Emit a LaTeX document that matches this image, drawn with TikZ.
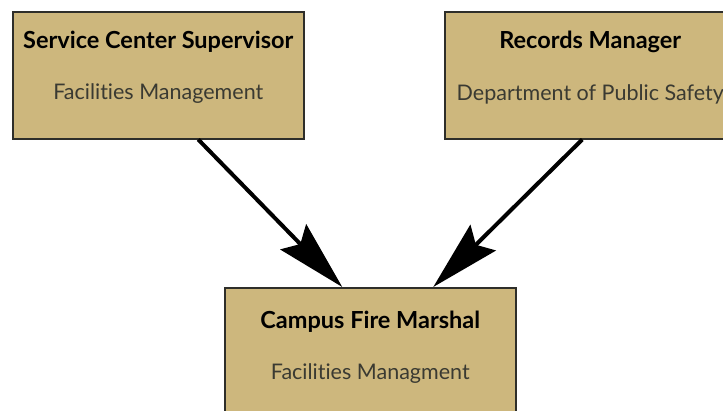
\documentclass[tikz,border=0pt]{standalone}
\usepackage{fontspec}
\setmainfont[Ligatures={NoCommon}]{Lato}
\usetikzlibrary{arrows.meta,calc}
\definecolor{boxfill}{HTML}{CDB77D}
\definecolor{boxline}{HTML}{2E2E2A}
\definecolor{subtext}{HTML}{3A3A32}
\begin{document}
\begin{tikzpicture}[x=1pt,y=-1pt,
  orgbox/.style={draw=boxline,line width=1.5pt,fill=boxfill,minimum width=291pt,minimum height=127pt,inner sep=0pt,anchor=north west},
  titletext/.style={font=\bfseries\fontsize{23.5}{26}\selectfont,text=black,inner sep=0pt},
  subtitletext/.style={font=\fontsize{21.5}{24}\selectfont,text=subtext,inner sep=0pt},
  link/.style={line width=4pt,-{Stealth[length=70pt,width=36pt,inset=10pt]}}]
\useasboundingbox (0,0) rectangle (723,410);
\clip (0,0) rectangle (723,410);
\node[orgbox] (b1) at (12,11) {};
\node[orgbox] (b2) at (444,11) {};
\node[orgbox] (b3) at (224,287) {};
\node[titletext] (t1) at ($(b1.north)+(0,31)$) {Service Center Supervisor};
\node[subtitletext] (s1) at ($(b1.north)+(0,83)$) {Facilities Management};
\node[titletext] (t2) at ($(b2.north)+(0,31)$) {Records Manager};
\node[subtitletext] (s2) at ($(b2.north)+(0,83)$) {Department of Public Safety};
\node[titletext] (t3) at ($(b3.north)+(0,35)$) {Campus Fire Marshal};
\node[subtitletext] (s3) at ($(b3.north)+(0,87)$) {Facilities Managment};
\draw[link] ([xshift=40pt]b1.south) -- ([xshift=-28pt]b3.north);
\draw[link] ([xshift=-8pt]b2.south) -- ([xshift=63pt]b3.north);
\end{tikzpicture}
\end{document}
